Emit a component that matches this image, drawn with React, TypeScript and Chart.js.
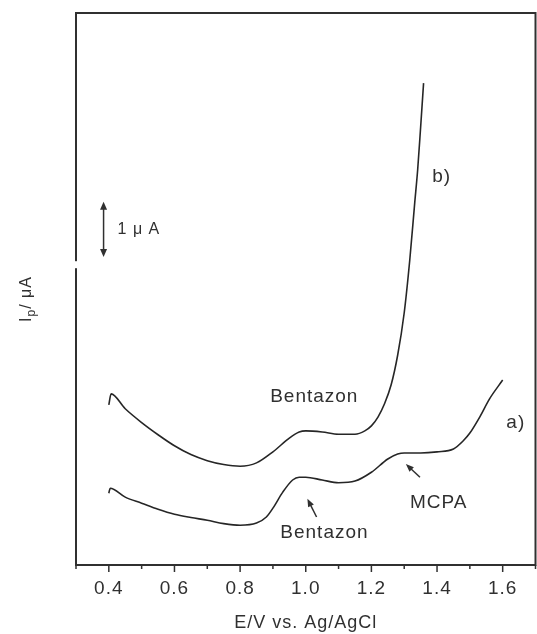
import React, { useEffect, useRef } from 'react';
import { Chart, registerables } from 'chart.js';

Chart.register(...registerables);

// ---- Data (E / V vs Ag/AgCl, current in µA above the lower frame edge) ----
const curveAX = [0.400, 0.404, 0.45, 0.50, 0.55, 0.60, 0.65, 0.70, 0.75, 0.80, 0.85, 0.88, 0.90, 0.93, 0.96, 0.98, 1.00, 1.05, 1.10, 1.15, 1.20, 1.25, 1.28, 1.30, 1.35, 1.40, 1.45, 1.48, 1.50, 1.53, 1.56, 1.60];
const curveAY = [1.30, 1.39, 1.23, 1.12, 1.01, 0.92, 0.86, 0.81, 0.75, 0.72, 0.76, 0.87, 1.03, 1.32, 1.54, 1.59, 1.59, 1.54, 1.49, 1.52, 1.68, 1.92, 2.01, 2.03, 2.03, 2.05, 2.10, 2.25, 2.39, 2.68, 3.01, 3.35];

const curveBX = [0.400, 0.407, 0.45, 0.50, 0.55, 0.60, 0.65, 0.70, 0.75, 0.80, 0.85, 0.90, 0.95, 0.98, 1.00, 1.05, 1.10, 1.15, 1.18, 1.20, 1.22, 1.24, 1.26, 1.28, 1.30, 1.317, 1.332, 1.341, 1.350, 1.359];
const curveBY = [2.90, 3.10, 2.83, 2.58, 2.36, 2.16, 2.00, 1.89, 1.82, 1.79, 1.85, 2.05, 2.30, 2.41, 2.43, 2.41, 2.37, 2.37, 2.43, 2.52, 2.68, 2.92, 3.26, 3.80, 4.57, 5.53, 6.56, 7.16, 7.93, 8.73];

const xTickValues = [0.3, 0.4, 0.5, 0.6, 0.7, 0.8, 0.9, 1.0, 1.1, 1.2, 1.3, 1.4, 1.5, 1.6, 1.7];
const xTickLabels = ['', '0.4', '', '0.6', '', '0.8', '', '1.0', '', '1.2', '', '1.4', '', '1.6', ''];
const xAxisTitle = 'E/V vs. Ag/AgCl';
const yTitleMain = 'I';
const yTitleSub = 'p';
const yTitleRest = '/ μA';

const scaleBarText = '1 μ A';
const scaleBarX = [0.384];
const scaleBarY = [5.58, 6.58];
const axisGapY = [5.44];

const noteTexts = ['Bentazon', 'Bentazon', 'MCPA', 'a)', 'b)'];
const noteX = [1.026, 1.057, 1.405, 1.64, 1.414];
const noteY = [3.04, 0.58, 1.12, 2.57, 7.03];

const pointerFromX = [1.033, 1.348];
const pointerFromY = [0.87, 1.59];
const pointerToX = [1.005, 1.305];
const pointerToY = [1.20, 1.83];

// ---- Styles ----
const FONT = '"Liberation Sans", Arial, Helvetica, sans-serif';
const INK = '#303030';
const LINE = '#262626';

function arrowHead(ctx: any, x: number, y: number, angle: number, len: number, half: number) {
  const c = Math.cos(angle), s = Math.sin(angle);
  ctx.beginPath();
  ctx.moveTo(x, y);
  ctx.lineTo(x - len * c + half * s, y - len * s - half * c);
  ctx.lineTo(x - len * c - half * s, y - len * s + half * c);
  ctx.closePath();
  ctx.fill();
}

const spacingPlugin = {
  id: 'spacing',
  beforeDraw(chart: any) {
    chart.ctx.letterSpacing = '1px';
  },
};

const framePlugin = {
  id: 'frameAndNotes',
  afterDraw(chart: any) {
    const { ctx, chartArea: ca } = chart;
    const xs = chart.scales.x;
    const ys = chart.scales.y;
    ctx.save();
    ctx.letterSpacing = '1px';
    // frame
    ctx.strokeStyle = INK;
    ctx.lineWidth = 2;
    ctx.strokeRect(ca.left, ca.top, ca.right - ca.left, ca.bottom - ca.top);
    // gap in left axis
    const gy = ys.getPixelForValue(axisGapY[0]);
    ctx.fillStyle = '#ffffff';
    ctx.fillRect(ca.left - 3, gy - 3.5, 6, 7);
    // x ticks (outside)
    ctx.lineWidth = 1.5;
    xTickValues.forEach((v, i) => {
      const px = xs.getPixelForValue(v);
      const len = xTickLabels[i] ? 7 : 4;
      ctx.beginPath();
      ctx.moveTo(px, ca.bottom);
      ctx.lineTo(px, ca.bottom + len);
      ctx.stroke();
    });
    // scale bar
    ctx.fillStyle = INK;
    ctx.strokeStyle = INK;
    ctx.lineWidth = 1.5;
    const sx = xs.getPixelForValue(scaleBarX[0]);
    const sy0 = ys.getPixelForValue(scaleBarY[0]);
    const sy1 = ys.getPixelForValue(scaleBarY[1]);
    ctx.beginPath();
    ctx.moveTo(sx, sy0 - 4);
    ctx.lineTo(sx, sy1 + 4);
    ctx.stroke();
    arrowHead(ctx, sx, sy1, -Math.PI / 2, 8, 3.5);
    arrowHead(ctx, sx, sy0, Math.PI / 2, 8, 3.5);
    ctx.font = `16px ${FONT}`;
    ctx.textAlign = 'left';
    ctx.textBaseline = 'middle';
    ctx.fillText(scaleBarText, sx + 14, (sy0 + sy1) / 2);
    // notes
    ctx.font = `19px ${FONT}`;
    ctx.textAlign = 'center';
    noteTexts.forEach((t, i) => {
      ctx.fillText(t, xs.getPixelForValue(noteX[i]), ys.getPixelForValue(noteY[i]));
    });
    // pointer arrows
    ctx.lineWidth = 1.5;
    pointerFromX.forEach((fx, i) => {
      const x0 = xs.getPixelForValue(fx), y0 = ys.getPixelForValue(pointerFromY[i]);
      const x1 = xs.getPixelForValue(pointerToX[i]), y1 = ys.getPixelForValue(pointerToY[i]);
      const ang = Math.atan2(y1 - y0, x1 - x0);
      ctx.beginPath();
      ctx.moveTo(x0, y0);
      ctx.lineTo(x1 - 4 * Math.cos(ang), y1 - 4 * Math.sin(ang));
      ctx.stroke();
      arrowHead(ctx, x1, y1, ang, 8, 3.2);
    });
    // y axis title with subscript
    ctx.translate(25, (ca.top + ca.bottom) / 2 + 10);
    ctx.rotate(-Math.PI / 2);
    ctx.textAlign = 'left';
    ctx.textBaseline = 'alphabetic';
    const big = `16px ${FONT}`;
    const small = `12px ${FONT}`;
    ctx.font = big;
    const w1 = ctx.measureText(yTitleMain).width;
    ctx.font = small;
    const w2 = ctx.measureText(yTitleSub).width;
    ctx.font = big;
    const w3 = ctx.measureText(yTitleRest).width;
    let cx = -(w1 + w2 + w3) / 2;
    ctx.font = big;
    ctx.fillText(yTitleMain, cx, 6);
    cx += w1;
    ctx.font = small;
    ctx.fillText(yTitleSub, cx, 10);
    cx += w2;
    ctx.font = big;
    ctx.fillText(yTitleRest, cx, 6);
    ctx.restore();
  },
};

export default function App() {
  const canvasRef = useRef<HTMLCanvasElement | null>(null);

  useEffect(() => {
    const canvas = canvasRef.current;
    if (!canvas) return;
    const chart = new Chart(canvas, {
      type: 'line',
      data: {
        datasets: [
          {
            label: 'a)',
            data: curveAX.map((x, i) => ({ x, y: curveAY[i] })),
            borderColor: LINE,
            borderWidth: 1.6,
            pointRadius: 0,
            fill: false,
            cubicInterpolationMode: 'monotone',
          },
          {
            label: 'b)',
            data: curveBX.map((x, i) => ({ x, y: curveBY[i] })),
            borderColor: LINE,
            borderWidth: 1.6,
            pointRadius: 0,
            fill: false,
            cubicInterpolationMode: 'monotone',
          },
        ],
      },
      options: {
        animation: false,
        responsive: false,
        layout: { padding: { top: 13, right: 1.5, left: 0, bottom: 0 } },
        plugins: { legend: { display: false }, tooltip: { enabled: false } },
        scales: {
          x: {
            type: 'linear',
            min: 0.3,
            max: 1.7,
            afterBuildTicks: (s: any) => {
              s.ticks = xTickValues.map((v) => ({ value: v }));
            },
            afterFit: (s: any) => {
              s.height = 69;
              s.paddingLeft = 0;
              s.paddingRight = 0;
            },
            grid: { display: false, drawTicks: false },
            border: { display: false },
            ticks: {
              autoSkip: false,
              maxRotation: 0,
              minRotation: 0,
              padding: 12,
              color: INK,
              font: { family: FONT, size: 19 },
              callback: (_v: any, i: number) => xTickLabels[i],
            },
            title: {
              display: true,
              text: xAxisTitle,
              color: INK,
              font: { family: FONT, size: 18 },
              padding: { top: 0, bottom: 0 },
            },
          },
          y: {
            type: 'linear',
            min: 0,
            max: 10,
            afterFit: (s: any) => {
              s.width = 76;
              s.paddingTop = 0;
              s.paddingBottom = 0;
            },
            grid: { display: false, drawTicks: false },
            border: { display: false },
            ticks: { display: false },
          },
        },
      },
      plugins: [spacingPlugin, framePlugin],
    } as any);
    return () => chart.destroy();
  }, []);

  return (
    <div style={{ position: 'absolute', left: 0, top: 0, width: 537, height: 634, background: '#fff' }}>
      <canvas ref={canvasRef} width={537} height={634} style={{ display: 'block' }} />
    </div>
  );
}
